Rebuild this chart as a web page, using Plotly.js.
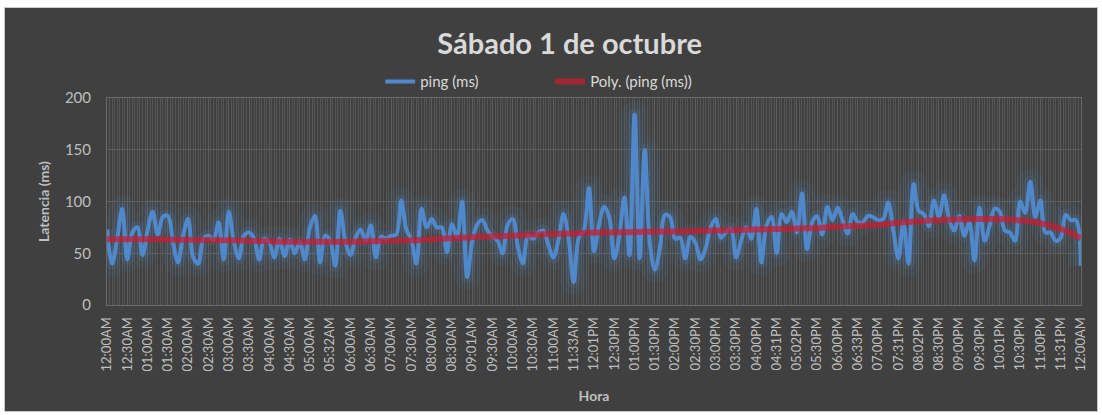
<!DOCTYPE html>
<html>
<head>
<meta charset="utf-8">
<script src="https://cdn.plot.ly/plotly-3.0.1.min.js"></script>
<style>
html,body{margin:0;padding:0;background:#ffffff;}
#chart{position:absolute;left:4px;top:7px;width:1094px;height:405px;box-sizing:border-box;border:1px solid #c8c8c8;}
</style>
</head>
<body>
<div id="chart"></div>
<script>
// X-axis tick labels (every 30 min)
const tickLabels = ["12:00AM","12:30AM","01:00AM","01:30AM","02:00AM","02:30AM","03:00AM","03:30AM","04:00AM","04:30AM","05:00AM","05:32AM","06:00AM","06:30AM","07:00AM","07:30AM","08:00AM","08:30AM","09:01AM","09:30AM","10:00AM","10:30AM","11:00AM","11:33AM","12:01PM","12:30PM","01:00PM","01:30PM","02:00PM","02:30PM","03:00PM","03:30PM","04:00PM","04:31PM","05:02PM","05:30PM","06:00PM","06:33PM","07:00PM","07:31PM","08:02PM","08:30PM","09:00PM","09:30PM","10:01PM","10:30PM","11:00PM","11:31PM","12:00AM"];

// ping (ms), sampled 4 readings per 30-minute label interval
const ping = [
73,40,64,93,44,70,75,48,72,90,68,85,86,61,41,67,83,46,40,64,
67,63,80,44,90,61,45,67,70,64,44,64,60,46,64,47,63,50,61,44,
75,86,41,67,62,38,91,61,48,65,73,62,77,46,66,64,67,68,101,73,
63,40,93,75,83,75,75,51,78,66,100,27,62,78,82,72,66,62,50,78,
83,56,40,67,64,70,72,58,46,63,88,64,22,65,72,113,52,78,95,85,
45,67,104,48,184,45,150,60,34,55,87,85,64,65,45,66,60,44,55,75,
83,65,70,74,46,62,75,64,93,41,77,85,50,88,80,90,70,108,54,80,
86,68,95,82,94,82,69,88,80,80,86,85,82,83,99,72,45,80,40,117,
91,88,76,101,85,106,83,72,86,67,80,43,94,62,77,93,90,72,70,62,
100,89,119,85,101,70,70,62,65,87,82,82,38
];

// Poly. (ping (ms)) trendline read at each label position
const polyTrend = [63.5,63.5,63.5,63.3,63,62.8,62.5,62,61.5,61,61,61,61.2,61.6,62,62.5,63.5,64.5,65.5,66.5,67,68,68.5,69.2,70,70.2,70.5,71,71,71.5,72,72.5,73,73.5,74,74.5,75.5,76.5,77.5,79.5,81,82,82.8,83.2,83,81.8,79,73.5,64.5];

const pingStep = 0.25;
const xPing = ping.map((v,i)=>i*pingStep);
const xTrend = polyTrend.map((v,i)=>i);
const xTicks = tickLabels.map((v,i)=>i);

const blue = '#5089cb';
const textCol = '#bfbfbf';
const fontFam = 'Lato, "Open Sans", sans-serif';

const traces = [
  {x:xPing,y:ping,type:'scatter',mode:'lines',line:{color:'rgba(79,135,201,0.08)',width:26,shape:'spline',smoothing:1},showlegend:false,hoverinfo:'skip'},
  {x:xPing,y:ping,type:'scatter',mode:'lines',line:{color:'rgba(79,135,201,0.14)',width:12,shape:'spline',smoothing:1},showlegend:false,hoverinfo:'skip'},
  {x:xPing,y:ping,type:'scatter',mode:'lines',name:'ping (ms)',line:{color:blue,width:4,shape:'spline',smoothing:1}},
  {x:xTrend,y:polyTrend,type:'scatter',mode:'lines',name:'Poly. (ping (ms))',line:{color:'rgba(200,28,48,0.72)',width:6,shape:'spline',smoothing:1}}
];

const layout = {
  width:1092, height:403,
  paper_bgcolor:'#404040', plot_bgcolor:'#404040',
  margin:{l:102,r:16,t:90,b:106},
  title:{text:'<b>Sábado 1 de octubre</b>',x:0.475,xref:'paper',xanchor:'center',y:0.912,yanchor:'middle',font:{family:fontFam,size:29,color:'#d9d9d9'}},
  showlegend:true,
  legend:{orientation:'h',x:0.455,xanchor:'center',y:1.078,yanchor:'middle',font:{family:fontFam,size:15,color:'#d9d9d9'},bgcolor:'rgba(0,0,0,0)',entrywidth:125,tracegroupgap:0},
  xaxis:{
    range:[0,48], tickvals:xTicks, ticktext:tickLabels, tickangle:-90,
    tickfont:{family:fontFam,size:13,color:textCol}, ticklabelstandoff:6,
    showgrid:true, gridcolor:'#5e5e5e', gridwidth:1,
    minor:{dtick:0.125,showgrid:true,gridcolor:'#555555',gridwidth:1,ticks:''},
    showline:true, linecolor:'#6a6a6a', mirror:true, zeroline:false, ticks:'',
    title:{text:'<b>Hora</b>',font:{family:fontFam,size:14,color:textCol},standoff:20}
  },
  yaxis:{
    range:[0,200], dtick:50, tickfont:{family:fontFam,size:15,color:textCol}, ticklabelstandoff:12,
    showgrid:true, gridcolor:'#5e5e5e', gridwidth:1,
    showline:true, linecolor:'#6a6a6a', mirror:true, zeroline:false, ticks:'', ticklen:0,
    title:{text:'<b>Latencia (ms)</b>',font:{family:fontFam,size:14,color:textCol},standoff:11}
  }
};

Plotly.newPlot('chart', traces, layout, {displayModeBar:false, staticPlot:true});
</script>
</body>
</html>
